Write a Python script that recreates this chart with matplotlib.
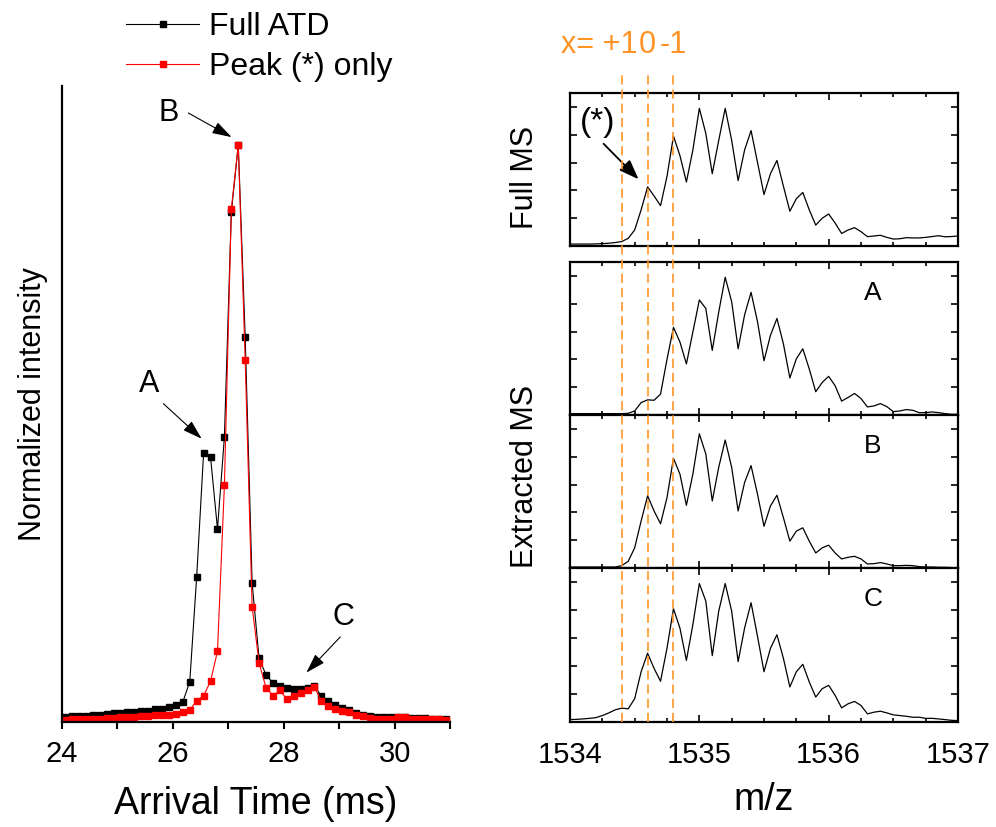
import numpy as np
import matplotlib
matplotlib.use("Agg")
import matplotlib.pyplot as plt
from matplotlib.ticker import MultipleLocator, FixedLocator, NullFormatter
from matplotlib.transforms import blended_transform_factory

plt.rcParams['font.family'] = ['Liberation Sans', 'DejaVu Sans']

# Arrival time distributions (normalized), sampled every 0.125 ms from 24.055 ms
t_start = 24.055
t_step = 0.125
full_atd = [0.005, 0.006, 0.007, 0.007, 0.008, 0.009, 0.010, 0.011, 0.012, 0.013,
            0.014, 0.015, 0.016, 0.018, 0.019, 0.022, 0.026,
            0.031, 0.066, 0.249, 0.465, 0.457, 0.332, 0.492, 0.883, 1.000, 0.666, 0.238, 0.107,
            0.078, 0.064, 0.059, 0.056, 0.053, 0.053, 0.056, 0.059, 0.041, 0.032, 0.026,
            0.021, 0.017, 0.012, 0.008,
            0.006, 0.005, 0.005, 0.004, 0.004, 0.004, 0.003, 0.003, 0.003, 0.002, 0.002, 0.002]
peak_only = [0.000, 0.001, 0.001, 0.002, 0.002, 0.002, 0.003, 0.003, 0.004, 0.004,
             0.005, 0.006, 0.006, 0.008, 0.008, 0.009, 0.010,
             0.013, 0.017, 0.033, 0.042, 0.067, 0.119, 0.408, 0.889, 1.000, 0.626, 0.197, 0.099,
             0.056, 0.042, 0.051, 0.036, 0.042, 0.046, 0.051, 0.057, 0.032, 0.023, 0.018,
             0.015, 0.013, 0.009, 0.006,
             0.003, 0.001, 0.001, 0.002, 0.004, 0.004, 0.002, 0.001, 0.001, 0.002, 0.001, 0.000]
time = t_start + t_step * np.arange(len(full_atd))

# Mass spectra, m/z 1534.00 - 1537.00 every 0.05
mz = np.round(1534.0 + 0.05 * np.arange(61), 2)
full_ms = [0.014, 0.014, 0.014, 0.014, 0.015, 0.017, 0.020, 0.025, 0.032, 0.055,
           0.115, 0.260, 0.425, 0.360, 0.290, 0.500, 0.790, 0.650, 0.460, 0.690,
           0.990, 0.810, 0.520, 0.760, 0.990, 0.760, 0.470, 0.690, 0.830, 0.600,
           0.370, 0.520, 0.615, 0.430, 0.250, 0.340, 0.385, 0.260, 0.150, 0.200,
           0.230, 0.165, 0.090, 0.115, 0.132, 0.103, 0.067, 0.072, 0.077, 0.062,
           0.050, 0.052, 0.060, 0.058, 0.058, 0.062, 0.068, 0.074, 0.066, 0.068,
           0.072]
ms_a = [0.010, 0.010, 0.010, 0.010, 0.010, 0.010, 0.010, 0.010, 0.010, 0.012,
        0.029, 0.089, 0.109, 0.106, 0.150, 0.400, 0.630, 0.525, 0.367, 0.597,
        0.827, 0.766, 0.464, 0.740, 0.990, 0.815, 0.476, 0.720, 0.882, 0.670,
        0.390, 0.573, 0.694, 0.512, 0.266, 0.404, 0.476, 0.331, 0.167, 0.234,
        0.278, 0.210, 0.100, 0.126, 0.155, 0.118, 0.058, 0.065, 0.082, 0.060,
        0.024, 0.029, 0.039, 0.034, 0.017, 0.017, 0.022, 0.017, 0.010, 0.005,
        0.005]
ms_b = [0.007, 0.007, 0.007, 0.007, 0.007, 0.007, 0.007, 0.007, 0.017, 0.048,
        0.145, 0.338, 0.519, 0.410, 0.318, 0.506, 0.789, 0.675, 0.451, 0.675,
        0.965, 0.820, 0.482, 0.724, 0.920, 0.724, 0.410, 0.615, 0.736, 0.530,
        0.300, 0.446, 0.523, 0.362, 0.193, 0.265, 0.289, 0.193, 0.108, 0.145,
        0.164, 0.108, 0.065, 0.077, 0.084, 0.065, 0.029, 0.031, 0.039, 0.029,
        0.017, 0.017, 0.019, 0.017, 0.010, 0.007, 0.007, 0.005, 0.005, 0.003,
        0.002]
ms_c = [0.017, 0.019, 0.022, 0.026, 0.031, 0.046, 0.065, 0.087, 0.099, 0.094,
        0.166, 0.359, 0.491, 0.383, 0.291, 0.527, 0.809, 0.671, 0.440, 0.696,
        0.989, 0.864, 0.474, 0.792, 0.989, 0.792, 0.431, 0.671, 0.852, 0.611,
        0.359, 0.527, 0.623, 0.455, 0.250, 0.359, 0.412, 0.286, 0.178, 0.238,
        0.262, 0.190, 0.101, 0.130, 0.147, 0.118, 0.058, 0.070, 0.077, 0.065,
        0.051, 0.046, 0.041, 0.034, 0.034, 0.026, 0.026, 0.022, 0.017, 0.012,
        0.010]

isotope_lines = [1534.4, 1534.6, 1534.8]
orange = '#FF9326'

W, H = 996, 827
fig = plt.figure(figsize=(W / 100, H / 100), dpi=100)


def fbox(x0, y0, x1, y1):
    # pixel box (top-left origin) -> figure fraction rect
    return [x0 / W, 1 - y1 / H, (x1 - x0) / W, (y1 - y0) / H]


# ---- left: arrival time distribution ----
ax = fig.add_axes(fbox(62, 86, 450, 722))
ax.plot(time, full_atd, color='black', lw=0.8, marker='s', ms=5,
        label='Full ATD')
ax.plot(time, peak_only, color='red', lw=0.8, marker='s', ms=5,
        label='Peak (*) only')
ax.set_xlim(24, 31)
ax.set_ylim(-0.004, 1.103)
ax.set_yticks([])
ax.xaxis.set_major_locator(FixedLocator([24, 26, 28, 30]))
ax.xaxis.set_minor_locator(MultipleLocator(1))
ax.tick_params(axis='x', which='both', direction='out', length=5, width=1.5,
               labelsize=21, pad=8)
for s in ['top', 'right']:
    ax.spines[s].set_visible(False)
for s in ['left', 'bottom']:
    ax.spines[s].set_linewidth(1.6)
ax.set_xlabel('Arrival Time (ms)', fontsize=27, labelpad=13)
ax.set_ylabel('Normalized intensity', fontsize=22, labelpad=10)

arrow = dict(arrowstyle='-|>,head_length=0.8,head_width=0.25', color='black',
             lw=0.8, mutation_scale=15, shrinkA=0, shrinkB=0)
ax.text(25.92, 1.056, 'B', fontsize=22, ha='center', va='center')
ax.annotate('', xy=(27.06, 1.014), xytext=(26.28, 1.056), arrowprops=arrow)
ax.text(25.58, 0.585, 'A', fontsize=22, ha='center', va='center')
ax.annotate('', xy=(26.52, 0.489), xytext=(25.83, 0.550), arrowprops=arrow)
ax.text(29.07, 0.179, 'C', fontsize=22, ha='center', va='center')
ax.annotate('', xy=(28.41, 0.082), xytext=(29.02, 0.144), arrowprops=arrow)

fig.legend(loc='upper left', bbox_to_anchor=(126 / W, 1 - 12 / H),
           frameon=False, fontsize=23, borderpad=0, borderaxespad=0,
           handlelength=2.3, handletextpad=0.3, labelspacing=0.32)

# ---- right: mass spectra ----
panels = [(93, 246, full_ms, None), (262, 415, ms_a, 'A'),
          (415, 568, ms_b, 'B'), (568, 722, ms_c, 'C')]
axes_r = []
for top, bot, spec, lab in panels:
    a = fig.add_axes(fbox(570, top, 958, bot))
    a.plot(mz, spec, color='black', lw=0.9)
    a.set_xlim(1534, 1537)
    a.set_ylim(0, 1.1)
    a.xaxis.set_major_locator(FixedLocator([1534, 1535, 1536, 1537]))
    a.xaxis.set_minor_locator(MultipleLocator(0.25))
    a.yaxis.set_major_locator(MultipleLocator(0.2))
    a.yaxis.set_major_formatter(NullFormatter())
    a.tick_params(which='both', direction='in', top=True, right=True, width=1.2)
    a.tick_params(which='major', length=5)
    a.tick_params(which='minor', length=3)
    for s in a.spines.values():
        s.set_linewidth(1.6)
    if lab:
        a.text(0.78, 0.80, lab, transform=a.transAxes, fontsize=19,
               ha='center', va='center')
    axes_r.append(a)

for a in axes_r[:-1]:
    a.xaxis.set_major_formatter(NullFormatter())
axes_r[-1].tick_params(axis='x', labelsize=21, pad=14)
axes_r[-1].set_xlabel('m/z', fontsize=27, labelpad=9)

top_ax = axes_r[0]
top_ax.text(1534.21, 0.887, '(*)', fontsize=24, ha='center', va='center')
top_ax.annotate('', xy=(1534.53, 0.48), xytext=(1534.26, 0.735),
                arrowprops=dict(arrowstyle='-|>,head_length=0.8,head_width=0.3',
                                color='black', lw=1.3, mutation_scale=15,
                                shrinkA=0, shrinkB=0))

fig.text(525 / W, 1 - 177 / H, 'Full MS', fontsize=22, rotation=90,
         ha='center', va='center')
fig.text(525 / W, 1 - 476 / H, 'Extracted MS', fontsize=22, rotation=90,
         ha='center', va='center')

# dashed isotope markers across all spectra
ov = fig.add_axes(fbox(570, 73, 958, 722))
ov.set_xlim(1534, 1537)
ov.set_ylim(0, 1)
ov.axis('off')
for x in isotope_lines:
    ov.axvline(x, color=orange, lw=1.2, dashes=(5.5, 3))
tr = blended_transform_factory(ov.transData, fig.transFigure)
ypos = 1 - 45 / H
ov.text(1534.525, ypos, 'x= +1', color=orange, fontsize=22, ha='right',
        va='center', transform=tr)
ov.text(1534.6, ypos, '0', color=orange, fontsize=22, ha='center',
        va='center', transform=tr)
ov.text(1534.69, ypos, '-1', color=orange, fontsize=22, ha='left',
        va='center', transform=tr)

fig.savefig('out.png', dpi=100)
